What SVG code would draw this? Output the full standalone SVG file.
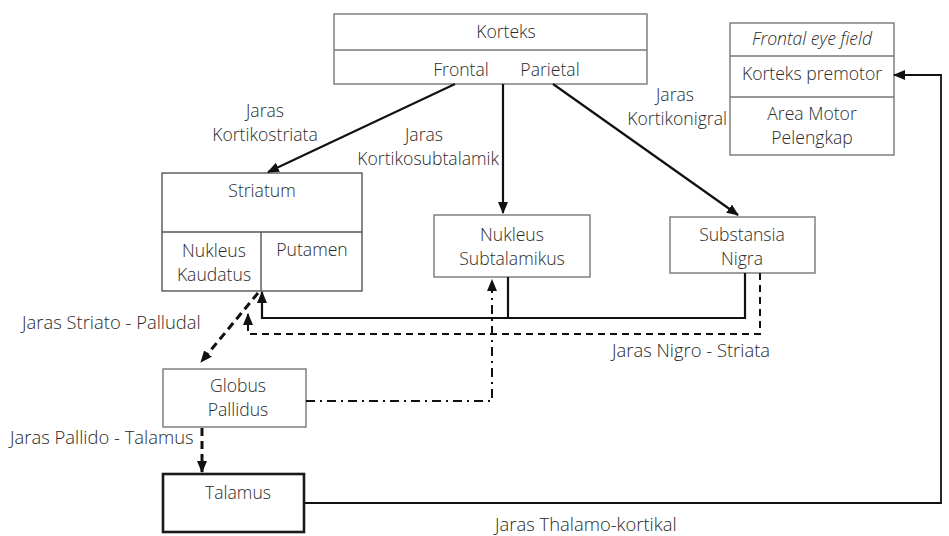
<svg xmlns="http://www.w3.org/2000/svg" width="949" height="536" viewBox="0 0 949 536">
<style>
text{font-family:"Open Sans","Noto Sans",sans-serif;font-size:17.6px;font-weight:300;fill:#2a2a2a;text-anchor:middle}
.box{fill:#fff;stroke:#777;stroke-width:1.4}
.div{stroke:#777;stroke-width:1.4;fill:none}
.thick{fill:#fff;stroke:#1a1a1a;stroke-width:2.6}
.c{fill:none;stroke:#111;stroke-width:2.2}
.d{fill:none;stroke:#111;stroke-width:2;stroke-dasharray:7 5}
.dd{fill:none;stroke:#111;stroke-width:3;stroke-dasharray:8 5}
.dash-dot{fill:none;stroke:#111;stroke-width:2;stroke-dasharray:9 5 2 5}
.lbl{text-anchor:start;font-size:18.4px}
.end{text-anchor:end}
</style>
<defs>
<marker id="ah" viewBox="0 0 12 10" refX="11" refY="5" markerWidth="12" markerHeight="10" markerUnits="userSpaceOnUse" orient="auto">
<path d="M0,0 L12,5 L0,10 Z" fill="#111"/>
</marker>
</defs>
<rect width="949" height="536" fill="#fff"/>

<g id="korteks">
<rect class="box" x="334" y="14" width="313" height="70"/>
<line class="div" x1="334" y1="50" x2="647" y2="50"/>
<text x="506" y="38">Korteks</text>
<text x="461" y="76">Frontal</text>
<text x="550" y="76">Parietal</text>
</g>

<g id="motor-areas">
<rect class="box" x="730" y="23" width="164" height="132"/>
<line class="div" x1="730" y1="56" x2="894" y2="56"/>
<line class="div" x1="730" y1="97" x2="894" y2="97"/>
<text x="812" y="45" font-style="italic">Frontal eye field</text>
<text x="812" y="80">Korteks premotor</text>
<text x="812" y="120">Area Motor<tspan x="812" dy="23.5">Pelengkap</tspan></text>
</g>

<g id="striatum">
<rect class="box" x="162" y="173" width="200" height="118" style="stroke:#555"/>
<line class="div" x1="162" y1="232" x2="362" y2="232" style="stroke:#555"/>
<line class="div" x1="261" y1="232" x2="261" y2="291" style="stroke:#555"/>
<text x="262" y="197">Striatum</text>
<text x="214" y="257">Nukleus<tspan x="214" dy="23.5">Kaudatus</tspan></text>
<text x="312" y="256">Putamen</text>
</g>

<g id="subtalamikus">
<rect class="box" x="434" y="215" width="156" height="62"/>
<text x="512" y="241">Nukleus<tspan x="512" dy="23.5">Subtalamikus</tspan></text>
</g>

<g id="nigra">
<rect class="box" x="670" y="217" width="145" height="56"/>
<text x="742" y="241">Substansia<tspan x="742" dy="23.5">Nigra</tspan></text>
</g>

<g id="globus">
<rect class="box" x="163" y="369" width="143" height="58"/>
<text x="238" y="392">Globus<tspan x="238" dy="23.5">Pallidus</tspan></text>
</g>

<g id="talamus">
<rect class="thick" x="163" y="474" width="141" height="58"/>
<text x="238" y="499">Talamus</text>
</g>

<g id="connectors">
<path class="c" d="M455,84 L268,172" marker-end="url(#ah)"/>
<path class="c" d="M503,84 V213" marker-end="url(#ah)"/>
<path class="c" d="M553,84 L738,215" marker-end="url(#ah)"/>
<path class="c" d="M745,273 V318 H262 V292" marker-end="url(#ah)"/>
<path class="c" d="M508,277 V318"/>
<path class="d" d="M760,273 V334 H248 V314" marker-end="url(#ah)"/>
<path class="dd" d="M258,293 L201,362" marker-end="url(#ah)"/>
<path class="dash-dot" d="M306,401 H492 V280" marker-end="url(#ah)"/>
<path class="dd" d="M202,428 V472" marker-end="url(#ah)"/>
<path class="c" d="M304,503 H941 V75 H894" style="stroke-width:1.8" marker-end="url(#ah)"/>
</g>

<g id="labels">
<text x="265" y="117">Jaras<tspan x="265" dy="23.5">Kortikostriata</tspan></text>
<text class="end" x="499" y="141"><tspan x="443">Jaras</tspan><tspan x="499" dy="23.5">Kortikosubtalamik</tspan></text>
<text class="end" x="727" y="101"><tspan x="694">Jaras</tspan><tspan x="727" dy="23.5">Kortikonigral</tspan></text>
<text class="lbl" x="22" y="329">Jaras Striato - Palludal</text>
<text class="lbl" x="612" y="357">Jaras Nigro - Striata</text>
<text class="lbl" x="10" y="444">Jaras Pallido - Talamus</text>
<text class="lbl" x="495" y="531">Jaras Thalamo-kortikal</text>
</g>
</svg>
